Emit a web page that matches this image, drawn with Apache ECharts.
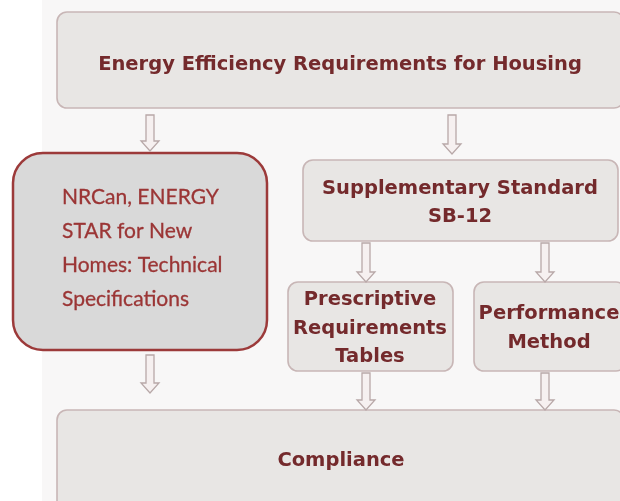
<!DOCTYPE html>
<html>
<head>
<meta charset="utf-8">
<script src="https://cdn.jsdelivr.net/npm/echarts@6/dist/echarts.min.js"></script>
<style>
  html, body { margin: 0; padding: 0; background: #fff; }
  #chart { width: 620px; height: 501px; }
</style>
</head>
<body>
<div id="chart"></div>
<script>
/* Flowchart: energy efficiency requirements for housing. */
(function () {
  "use strict";

  // diagram space: x 0..620, y 0..501 (y grows downward)
  const boxNames = ["top", "nrcan", "sb12", "prescriptive", "performance", "compliance"];
  const boxLabels = [
    "Energy Efficiency Requirements for Housing",
    "NRCan, ENERGY\nSTAR for New\nHomes: Technical\nSpecifications",
    "Supplementary Standard\nSB-12",
    "Prescriptive\nRequirements\nTables",
    "Performance\nMethod",
    "Compliance"
  ];
  const boxX0 = [57, 13, 303, 288, 474, 57];
  const boxY0 = [12, 153, 160, 282, 282, 410];
  const boxX1 = [624, 267, 618, 453, 626, 624];
  const boxY1 = [108, 350, 241, 371, 371, 512];
  // label anchor (centre of the text block) for each box
  const labelX = [340, 62, 460, 370, 549, 341];
  const labelY = [65, 248, 203, 328.5, 328.5, 461];

  const arrowX = [150, 452, 366, 545, 150, 366, 545];
  const arrowTop = [115, 115, 243, 243, 355, 373, 373];
  const arrowBottom = [151, 154, 282, 282, 393, 410, 410];

  const chart = echarts.init(document.getElementById("chart"), null, { renderer: "canvas" });

  const boxData = boxNames.map(function (n, i) {
    return [boxX0[i], boxY0[i], boxX1[i], boxY1[i], i];
  });
  const arrowData = arrowX.map(function (x, i) { return [x, arrowTop[i], arrowBottom[i]]; });

  function renderBox(params, api) {
    const i = api.value(4);
    const p0 = api.coord([api.value(0), api.value(1)]);
    const p1 = api.coord([api.value(2), api.value(3)]);
    const lp = api.coord([labelX[i], labelY[i]]);
    const isLeft = boxNames[i] === "nrcan";
    const w = p1[0] - p0[0], h = p1[1] - p0[1];
    const rect = {
      type: "rect",
      shape: { x: p0[0], y: p0[1], width: w, height: h, r: isLeft ? 30 : 10 },
      style: isLeft
        ? { fill: "#d9d9d9", stroke: "#9c3a3a", lineWidth: 2.5 }
        : { fill: "#e8e6e4", stroke: "#c8b6b6", lineWidth: 1.6 }
    };
    const text = {
      type: "text",
      style: isLeft
        ? {
            text: boxLabels[i], x: lp[0], y: lp[1],
            align: "left", verticalAlign: "middle",
            font: "21px Lato, 'Open Sans', sans-serif", lineHeight: 34, fill: "#9b3535",
            stroke: "#9b3535", lineWidth: 0.3
          }
        : {
            text: boxLabels[i], x: lp[0], y: lp[1],
            align: "center", verticalAlign: "middle",
            font: "bold 19.5px 'DejaVu Sans', sans-serif", lineHeight: 28.5, fill: "#742a2c"
          }
    };
    return { type: "group", children: [rect, text] };
  }

  function renderArrow(params, api) {
    const x = api.value(0);
    const top = api.coord([x, api.value(1)]);
    const bot = api.coord([x, api.value(2)]);
    const cx = top[0];
    const sw = 4, hw = 9, hh = 10;
    const neck = bot[1] - hh;
    return {
      type: "polygon",
      shape: {
        points: [
          [cx - sw, top[1]], [cx + sw, top[1]], [cx + sw, neck], [cx + hw, neck],
          [cx, bot[1]], [cx - hw, neck], [cx - sw, neck]
        ]
      },
      style: { fill: "#f6f0f0", stroke: "#b8a8a8", lineWidth: 1.3 }
    };
  }

  chart.setOption({
    animation: false,
    graphic: [{
      type: "rect", left: 42, top: 0, z: -1,
      shape: { width: 578, height: 501 },
      style: { fill: "#f8f7f7" }
    }],
    grid: { left: 0, right: 0, top: 0, bottom: 0 },
    xAxis: { type: "value", min: 0, max: 620, show: false },
    yAxis: { type: "value", min: 0, max: 501, inverse: true, show: false },
    series: [
      {
        type: "custom", name: "boxes", data: boxData, renderItem: renderBox,
        clip: true, silent: true, z: 2
      },
      {
        type: "custom", name: "arrows", data: arrowData, renderItem: renderArrow,
        clip: true, silent: true, z: 3
      }
    ]
  });
})();
</script>
</body>
</html>
